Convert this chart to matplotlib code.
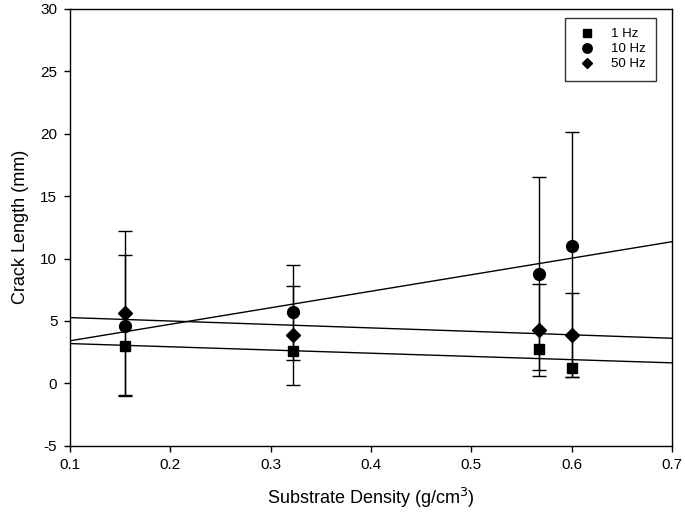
import numpy as np
import matplotlib.pyplot as plt

plt.rcParams['font.family'] = ['Liberation Sans', 'DejaVu Sans']
plt.rcParams['axes.unicode_minus'] = False

# Substrate density (g/cm^3) for each group
density = [0.155, 0.322, 0.567, 0.600]

# Mean crack length (mm) per loading frequency
crack_1hz = [3.0, 2.6, 2.75, 1.2]
crack_10hz = [4.6, 5.7, 8.8, 11.0]
crack_50hz = [5.6, 3.85, 4.3, 3.9]

# Error bar ends (mm), NaN where no cap is visible
low_1hz = [np.nan, np.nan, np.nan, np.nan]
high_1hz = [np.nan, np.nan, np.nan, np.nan]
low_10hz = [-1.05, 1.9, 1.05, 0.5]
high_10hz = [10.3, 9.5, 16.55, 20.1]
low_50hz = [-0.9, -0.1, 0.6, 0.5]
high_50hz = [12.2, 7.8, 8.0, 7.2]

series = [
    ("1 Hz", crack_1hz, low_1hz, high_1hz, 's', 7.5),
    ("10 Hz", crack_10hz, low_10hz, high_10hz, 'o', 8.5),
    ("50 Hz", crack_50hz, low_50hz, high_50hz, 'D', 7),
]

fig = plt.figure(figsize=(6.85, 5.22), dpi=100)
ax = fig.add_axes([0.102, 0.146, 0.879, 0.837])

x = np.array(density)
x_line = np.array([0.1, 0.7])
for label, y, lo, hi, marker, ms in series:
    y = np.array(y)
    yerr = np.vstack([y - np.array(lo), np.array(hi) - y])
    ax.errorbar(x, y, yerr=yerr, fmt='none', ecolor='black', elinewidth=1,
                capsize=5, capthick=1)
    ax.plot(x, y, linestyle='none', marker=marker, markersize=ms,
            color='black', label=label, zorder=3)
    # Linear regression line across the plotted range
    slope, intercept = np.polyfit(x, y, 1)
    ax.plot(x_line, slope * x_line + intercept, color='black', linewidth=1)

ax.set_xlim(0.1, 0.7)
ax.set_ylim(-5, 30)
ax.set_xticks(np.arange(0.1, 0.71, 0.1))
ax.set_xticklabels(["0.1", "0.2", "0.3", "0.4", "0.5", "0.6", "0.7"])
ax.set_yticks(np.arange(-5, 31, 5))
ax.tick_params(direction='out', length=4, width=1, labelsize=11, pad=5)
for s in ax.spines.values():
    s.set_linewidth(1)

ax.set_xlabel("Substrate Density (g/cm$^3$)", fontsize=13, labelpad=10)
ax.set_ylabel("Crack Length (mm)", fontsize=13, labelpad=8)

ax.legend(loc='upper right', fontsize=9.5, frameon=True, fancybox=False,
          edgecolor='black', borderpad=0.8, handletextpad=0.9, labelspacing=0.2,
          markerscale=0.8, handlelength=1.8, bbox_to_anchor=(0.985, 0.995))

fig.savefig("out.png", dpi=100)
